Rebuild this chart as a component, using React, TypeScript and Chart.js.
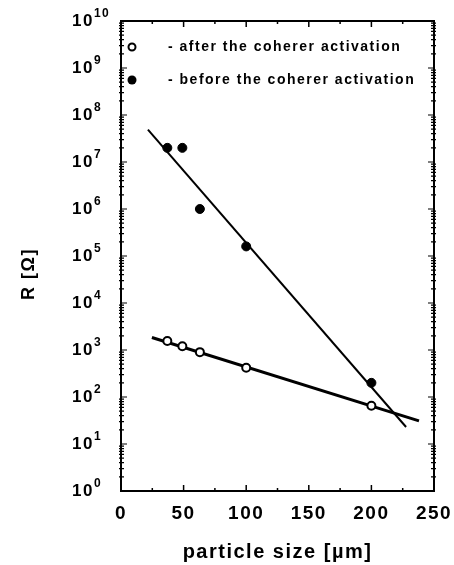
import React, { useEffect, useRef } from "react";
import { Chart, registerables } from "chart.js";

Chart.register(...registerables);

// particle size [µm]
const particleSizes = [37, 49, 63, 100, 200];
// R [Ω] before the coherer activation (filled circles)
const rBefore = [2.0e7, 2.0e7, 1.0e6, 1.6e5, 2.0e2];
// R [Ω] after the coherer activation (open circles)
const rAfter = [1.55e3, 1.2e3, 9.0e2, 4.2e2, 6.5e1];

// fitted straight lines (end points)
const fitBeforeX = [21.5, 227.7];
const fitBeforeR = [4.9e7, 23];
const fitAfterX = [24.7, 238];
const fitAfterR = [1840, 31];

const xTickValues = [0, 25, 50, 75, 100, 125, 150, 175, 200, 225, 250];
const xLabelValues = [0, 50, 100, 150, 200, 250];
const yDecades = [0, 1, 2, 3, 4, 5, 6, 7, 8, 9, 10];

const legendLabels = ["- after the coherer activation", "- before the coherer activation"];
const xTitle = "particle size [\u00b5m]";
const yTitle = "R [\u03a9]";

const FONT = "'Liberation Sans', Arial, sans-serif";

const framePlugin = {
  id: "frameTicks",
  beforeDraw(chart: any) {
    chart.ctx.letterSpacing = "1.5px";
  },
  afterDraw(chart: any) {
    const { ctx, chartArea } = chart;
    const { left, right, top, bottom } = chartArea;
    const xs = chart.scales.x;
    const ys = chart.scales.y;
    ctx.save();
    ctx.strokeStyle = "#000";
    ctx.lineWidth = 2;
    ctx.strokeRect(left, top, right - left, bottom - top);
    ctx.lineWidth = 1.5;
    ctx.beginPath();
    xs.ticks.forEach((t: any) => {
      const px = xs.getPixelForValue(t.value);
      const major = xLabelValues.includes(t.value);
      const len = major ? 6 : 3;
      ctx.moveTo(px, bottom);
      ctx.lineTo(px, bottom - len);
      ctx.moveTo(px, top);
      ctx.lineTo(px, top + len);
    });
    ctx.stroke();
    ctx.lineWidth = 1.2;
    ctx.beginPath();
    ys.ticks.forEach((t: any) => {
      const py = ys.getPixelForValue(t.value);
      const e = Math.log10(t.value);
      const major = Math.abs(e - Math.round(e)) < 1e-9;
      if (major) {
        ctx.moveTo(left - 1, py);
        ctx.lineTo(left + 6, py);
        ctx.moveTo(right + 1, py);
        ctx.lineTo(right - 6, py);
      } else {
        ctx.moveTo(left - 2, py);
        ctx.lineTo(left + 3, py);
        ctx.moveTo(right + 2, py);
        ctx.lineTo(right - 3, py);
      }
    });
    ctx.stroke();

    // y tick labels: 10 with raised exponent
    ctx.fillStyle = "#000";
    ctx.textAlign = "left";
    yDecades.forEach((e) => {
      const py = ys.getPixelForValue(Math.pow(10, e));
      ctx.font = `bold 17px ${FONT}`;
      ctx.textBaseline = "middle";
      ctx.fillText("10", 72, py + 0.5);
      const w = ctx.measureText("10").width;
      ctx.font = `bold 12px ${FONT}`;
      ctx.textBaseline = "alphabetic";
      ctx.fillText(String(e), 72 + w, py - 4);
    });

    // y axis title
    ctx.save();
    ctx.translate(29, 274);
    ctx.rotate(-Math.PI / 2);
    ctx.font = `bold 18px ${FONT}`;
    ctx.textAlign = "center";
    ctx.textBaseline = "middle";
    ctx.fillText(yTitle, 0, 0);
    ctx.restore();

    // legend inside the plot
    ctx.font = `bold 14px ${FONT}`;
    ctx.textBaseline = "middle";
    ctx.textAlign = "left";
    const rows = [top + 26, top + 59];
    ctx.beginPath();
    ctx.lineWidth = 2;
    ctx.fillStyle = "#fff";
    ctx.arc(left + 11, rows[0], 3.5, 0, Math.PI * 2);
    ctx.fill();
    ctx.stroke();
    ctx.beginPath();
    ctx.fillStyle = "#000";
    ctx.arc(left + 11, rows[1], 4.5, 0, Math.PI * 2);
    ctx.fill();
    ctx.fillText(legendLabels[0], left + 47, rows[0]);
    ctx.fillText(legendLabels[1], left + 47, rows[1]);
    ctx.restore();
  },
};

export default function App() {
  const ref = useRef<HTMLCanvasElement | null>(null);
  useEffect(() => {
    if (!ref.current) return;
    const pts = (xs: number[], ys: number[]) => xs.map((x, i) => ({ x, y: ys[i] }));
    const chart = new Chart(ref.current, {
      type: "scatter",
      data: {
        datasets: [
          {
            label: legendLabels[1],
            data: pts(particleSizes, rBefore),
            pointRadius: 4.5,
            pointBackgroundColor: "#000",
            pointBorderColor: "#000",
            pointBorderWidth: 1,
            showLine: false,
          },
          {
            label: legendLabels[0],
            data: pts(particleSizes, rAfter),
            pointRadius: 4,
            pointBackgroundColor: "#fff",
            pointBorderColor: "#000",
            pointBorderWidth: 2,
            showLine: false,
          },
          {
            label: "fit before",
            data: pts(fitBeforeX, fitBeforeR),
            showLine: true,
            borderColor: "#000",
            borderWidth: 2,
            pointRadius: 0,
          },
          {
            label: "fit after",
            data: pts(fitAfterX, fitAfterR),
            showLine: true,
            borderColor: "#000",
            borderWidth: 3,
            pointRadius: 0,
          },
        ],
      },
      options: {
        animation: false,
        responsive: true,
        maintainAspectRatio: false,
        layout: { padding: { left: 0, right: 20, top: 21, bottom: 0 } },
        plugins: { legend: { display: false }, tooltip: { enabled: false } },
        scales: {
          x: {
            type: "linear",
            min: 0,
            max: 250,
            grid: { display: false, drawTicks: false },
            border: { display: false },
            afterBuildTicks: (s: any) => {
              s.ticks = xTickValues.map((v) => ({ value: v }));
            },
            afterFit: (s: any) => {
              s.height = 74;
              s.paddingLeft = 0;
              s.paddingRight = 0;
            },
            ticks: {
              autoSkip: false,
              maxRotation: 0,
              padding: 11,
              color: "#000",
              font: { family: FONT, size: 19, weight: "bold" },
              callback: (v: any) => (xLabelValues.includes(Number(v)) ? String(v) : ""),
            },
            title: {
              display: true,
              text: xTitle,
              color: "#000",
              font: { family: FONT, size: 20, weight: "bold" },
              padding: { top: 0, bottom: 1 },
            },
          },
          y: {
            type: "logarithmic",
            min: 1,
            max: 1e10,
            grid: { display: false, drawTicks: false },
            border: { display: false },
            afterBuildTicks: (s: any) => {
              const t: any[] = [];
              yDecades.forEach((e) => {
                if (e === 10) {
                  t.push({ value: Math.pow(10, e) });
                } else {
                  for (let m = 1; m <= 9; m++) t.push({ value: m * Math.pow(10, e) });
                }
              });
              s.ticks = t;
            },
            afterFit: (s: any) => {
              s.width = 121;
              s.paddingTop = 0;
              s.paddingBottom = 0;
            },
            ticks: {
              autoSkip: false,
              padding: 10,
              color: "#000",
              font: { family: FONT, size: 17, weight: "bold" },
              callback: () => "",
            },
          },
        },
      },
      plugins: [framePlugin],
    });
    return () => chart.destroy();
  }, []);
  return (
    <div style={{ position: "fixed", left: 0, top: 0, width: 454, height: 565, background: "#fff" }}>
      <canvas ref={ref} />
    </div>
  );
}
